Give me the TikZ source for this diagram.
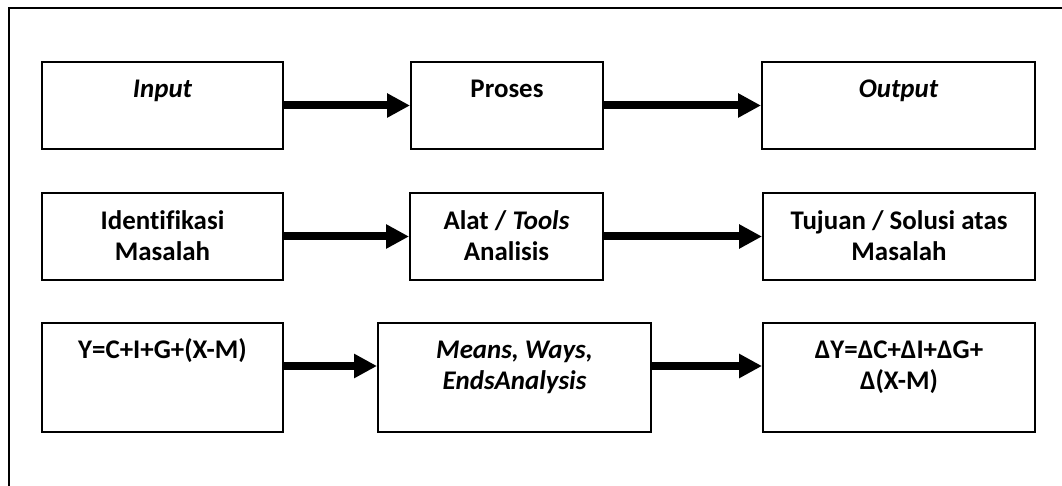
\documentclass[tikz,border=0pt]{standalone}
\usepackage{fontspec}
\setmainfont{Carlito}[Ligatures=NoCommon]
\usetikzlibrary{arrows.meta,positioning}

\tikzset{
  box/.style={draw, line width=2pt, inner sep=0pt, minimum height=87pt},
  tall/.style={minimum height=109pt},
  txt/.style={font=\fontsize{26.9}{31}\selectfont\bfseries, align=center, inner sep=0pt, anchor=base},
  flow/.style={line width=8pt, -{Triangle[length=23pt, width=23pt]}},
  frame/.style={line width=2.5pt}
}

\begin{document}
\begin{tikzpicture}[x=1pt, y=-1pt]
  \useasboundingbox (0,0) rectangle (1062,486);

  % outer frame (runs past the right and bottom edges)
  \draw[frame] (1070,8) -- (9,8) -- (9,495);

  % row 1
  \node[box, minimum width=241pt] (in)  at (162.5,105.5) {};
  \node[box, minimum width=192pt] (pr)  at (507,105.5)   {};
  \node[box, minimum width=273pt] (out) at (898.5,105.5) {};
  \node[txt] (inT)  at ([yshift=-37pt]in.north)  {\itshape Input};
  \node[txt] (prT)  at ([yshift=-37pt]pr.north)  {Proses};
  \node[txt] (outT) at ([yshift=-37pt]out.north) {\itshape Output};

  % row 2 (base anchor of a two-line node sits on its last line)
  \node[box, minimum width=241pt] (id) at (162.5,236.5) {};
  \node[box, minimum width=193pt] (al) at (506.5,236.5) {};
  \node[box, minimum width=272pt] (tj) at (899,236.5)   {};
  \node[txt] (idT) at ([yshift=-69pt]id.north) {Identifikasi\\Masalah};
  \node[txt] (alT) at ([yshift=-69pt]al.north) {Alat / \textit{Tools}\\Analisis};
  \node[txt] (tjT) at ([yshift=-69pt]tj.north) {Tujuan / Solusi atas\\Masalah};

  % row 3
  \node[box, tall, minimum width=241pt] (yc) at (162.5,377.5) {};
  \node[box, tall, minimum width=273pt] (mw) at (514.5,377.5) {};
  \node[box, tall, minimum width=272pt] (dy) at (899,377.5)   {};
  \node[txt] (ycT) at ([yshift=-36pt]yc.north) {Y=C+I+G+(X-M)};
  \node[txt] (mwT) at ([yshift=-67pt]mw.north) {\itshape Means, Ways,\\\itshape EndsAnalysis};
  \node[txt] (dyT) at ([yshift=-67pt]dy.north) {ΔY=ΔC+ΔI+ΔG+\\Δ(X-M)};

  % connectors
  \draw[flow] (in.east) -- (pr.west);
  \draw[flow] (pr.east) -- (out.west);
  \draw[flow] (id.east) -- (al.west);
  \draw[flow] (al.east) -- (tj.west);
  \coordinate (r3) at ([yshift=-44pt]yc.north);
  \draw[flow] (yc.east |- r3) -- (mw.west |- r3);
  \draw[flow] (mw.east |- r3) -- (dy.west |- r3);
\end{tikzpicture}
\end{document}
